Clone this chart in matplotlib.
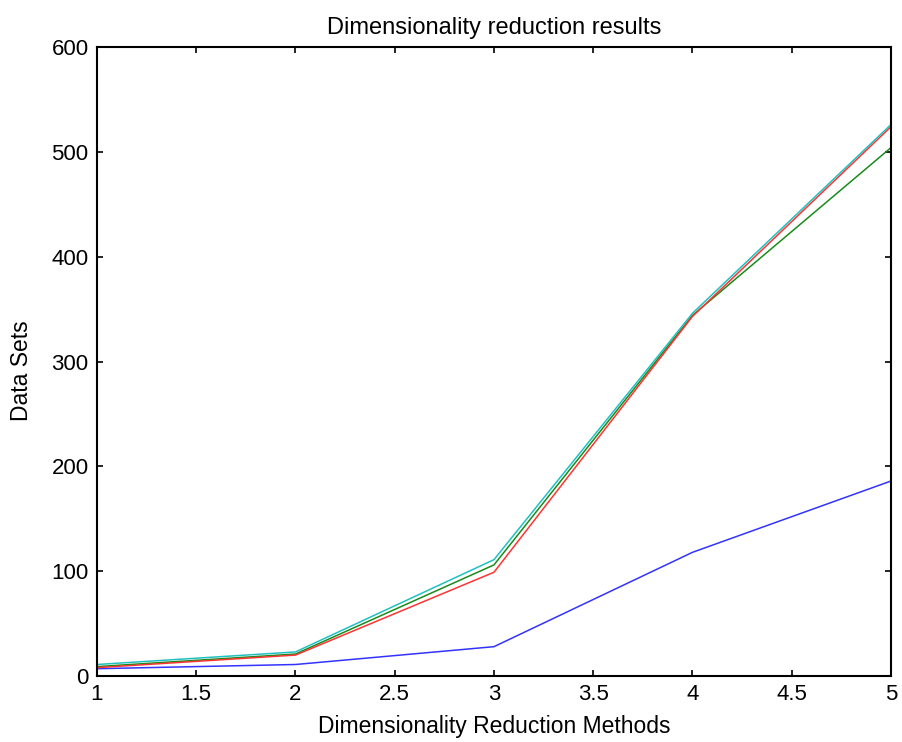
import matplotlib
matplotlib.use('Agg')
import matplotlib.pyplot as plt

plt.rcParams['font.family'] = ['Liberation Sans', 'DejaVu Sans']

x = [1, 2, 3, 4, 5]
blue_vals = [7, 11, 28, 118, 186]
green_vals = [9, 21, 106, 344, 504]
red_vals = [8, 20, 99, 343, 524]
cyan_vals = [11, 23, 111, 346, 526]

fig = plt.figure(figsize=(9.02, 7.42), dpi=100)
ax = fig.add_axes([0.1075, 0.0889, 0.8803, 0.8478])

# matlab default colour order
ax.plot(x, blue_vals, color='#3333ff', lw=1.1)
ax.plot(x, green_vals, color='#1a8a1a', lw=1.1)
ax.plot(x, red_vals, color='#ff3333', lw=1.1)
ax.plot(x, cyan_vals, color='#20c0c0', lw=1.1)

ax.set_xlim(1, 5)
ax.set_ylim(0, 600)
ax.set_xticks([1, 1.5, 2, 2.5, 3, 3.5, 4, 4.5, 5])
ax.set_xticklabels(['1', '1.5', '2', '2.5', '3', '3.5', '4', '4.5', '5'])
ax.set_yticks(range(0, 601, 100))
ax.tick_params(direction='in', top=True, right=True, labelsize=16, length=4, width=1.2, pad=6)
for s in ax.spines.values():
    s.set_linewidth(1.5)

ax.set_title('Dimensionality reduction results', fontsize=17, pad=9)
ax.set_xlabel('Dimensionality Reduction Methods', fontsize=16.5, labelpad=7)
ax.set_ylabel('Data Sets', fontsize=16.5)
ax.yaxis.set_label_coords(-0.08, 0.485)

fig.savefig('out.png', dpi=100)
